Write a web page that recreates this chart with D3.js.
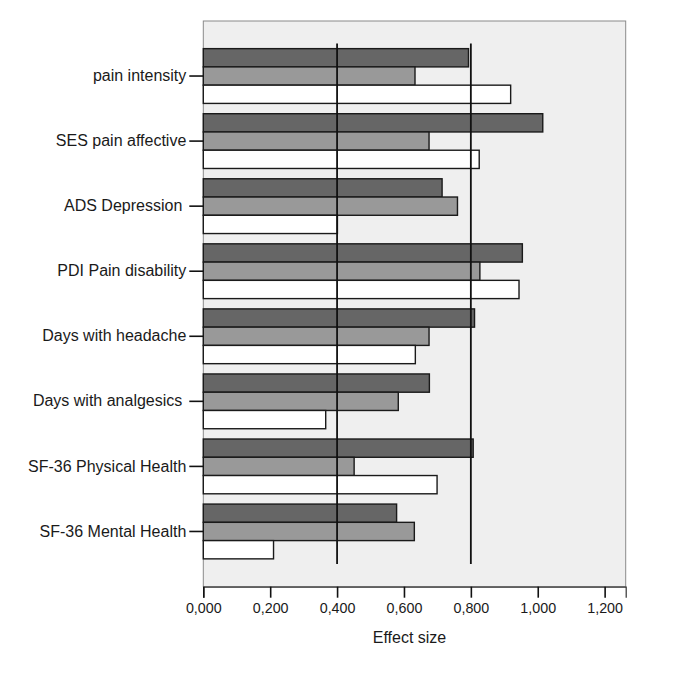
<!DOCTYPE html>
<html>
<head>
<meta charset="utf-8">
<script src="https://cdn.jsdelivr.net/npm/d3@7.9.0/dist/d3.min.js"></script>
<style>
  body { margin: 0; background: #fff; }
  svg text { font-family: "Liberation Sans", Arial, sans-serif; fill: #1a1a1a; }
</style>
</head>
<body>
<svg width="685" height="685"></svg>
<script>
// outcome measures, top to bottom
const categories = [
  'pain intensity', 'SES pain affective', 'ADS Depression', 'PDI Pain disability',
  'Days with headache', 'Days with analgesics', 'SF-36 Physical Health', 'SF-36 Mental Health'
];
const series = ['dark', 'gray', 'white'];
const darkValues  = [0.793, 1.015, 0.714, 0.954, 0.811, 0.676, 0.807, 0.578];
const grayValues  = [0.633, 0.675, 0.760, 0.827, 0.675, 0.583, 0.451, 0.631];
const whiteValues = [0.919, 0.825, 0.401, 0.944, 0.634, 0.366, 0.699, 0.210];
const xTicks = [0, 0.2, 0.4, 0.6, 0.8, 1.0, 1.2];
const refLines = [0.4, 0.8];

const colors = { dark: '#666666', gray: '#999999', white: '#ffffff' };
const valuesBySeries = { dark: darkValues, gray: grayValues, white: whiteValues };

const plotLeft = 203.3, plotRight = 625.7, plotTop = 21, plotBottom = 586.7;

const svg = d3.select('svg');

let x = d3.scaleLinear().domain([0, 1.263]).range([plotLeft, plotRight]);
let y = d3.scaleBand().domain(categories).range([43.5, 564]).paddingInner(0.158).paddingOuter(0.079);
let ySub = d3.scaleBand().domain(series).range([0, y.bandwidth()]);

// plot background
svg.append('rect')
  .attr('x', plotLeft).attr('y', plotTop)
  .attr('width', plotRight - plotLeft).attr('height', plotBottom - plotTop)
  .attr('fill', '#efefef').attr('stroke', '#8a8a8a').attr('stroke-width', 1);

// bars
categories.forEach((cat, i) => {
  series.forEach((s) => {
    svg.append('rect')
      .attr('x', x(0))
      .attr('y', y(cat) + ySub(s))
      .attr('width', x(valuesBySeries[s][i]) - x(0))
      .attr('height', ySub.bandwidth())
      .attr('fill', colors[s])
      .attr('stroke', '#1a1a1a')
      .attr('stroke-width', 1.4);
  });
});

// reference lines
refLines.forEach((v) => {
  svg.append('line')
    .attr('x1', x(v)).attr('x2', x(v))
    .attr('y1', y.range()[0]).attr('y2', y.range()[1])
    .attr('stroke', '#111').attr('stroke-width', 1.8);
});

// x axis
let xAxis = d3.axisBottom(x)
  .tickValues(xTicks)
  .tickSize(11)
  .tickPadding(5)
  .tickFormat((d) => d3.format('.3f')(d).replace('.', ','));

let gx = svg.append('g').attr('transform', `translate(0,${plotBottom})`).call(xAxis);
gx.select('.domain').attr('stroke', '#333').attr('stroke-width', 1.2);
gx.selectAll('.tick line').attr('stroke', '#111').attr('stroke-width', 1.6);
gx.selectAll('.tick text').attr('font-size', 14.3).attr('fill', '#1a1a1a');

svg.append('text')
  .attr('x', (plotLeft + plotRight) / 2 - 5)
  .attr('y', 643)
  .attr('text-anchor', 'middle')
  .attr('font-size', 16)
  .text('Effect size');

// y axis
let yAxis = d3.axisLeft(y).tickSize(14).tickPadding(3);
let gy = svg.append('g').attr('transform', `translate(${plotLeft},0)`).call(yAxis);
gy.select('.domain').remove();
gy.selectAll('.tick line').attr('stroke', '#111').attr('stroke-width', 1.6);
gy.selectAll('.tick text').attr('font-size', 16).attr('fill', '#1a1a1a')
  .attr('dx', (d) => (d === 'ADS Depression' || d === 'Days with analgesics') ? -4 : 0);
</script>
</body>
</html>
